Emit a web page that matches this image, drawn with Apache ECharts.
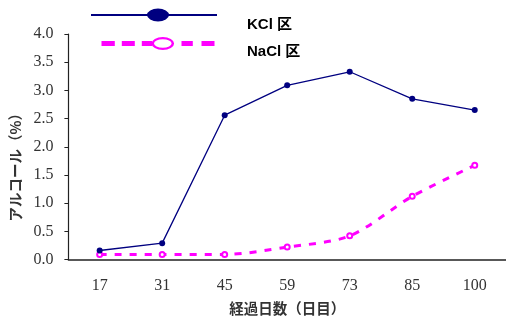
<!DOCTYPE html>
<html>
<head>
<meta charset="utf-8">
<script src="https://cdn.jsdelivr.net/npm/echarts@6/dist/echarts.min.js"></script>
<style>
  html, body { margin: 0; padding: 0; background: #fff; }
  #chart { width: 506px; height: 321px; }
</style>
</head>
<body>
<div id="chart"></div>
<script>
// Elapsed days (category axis)
const days = ['17', '31', '45', '59', '73', '85', '100'];
// Alcohol content (%) per plot
const kclValues = [0.16, 0.29, 2.56, 3.09, 3.33, 2.85, 2.65];
const naclValues = [0.09, 0.09, 0.09, 0.22, 0.42, 1.12, 1.67];
const seriesNames = ['KCl 区', 'NaCl 区'];
const yTicks = { min: 0, max: 4, step: 0.5 };

const NAVY = '#000080';
const MAGENTA = '#FF00FF';

// Legend icons: a line with a large oval marker near the top of the icon box.
// A tiny speck at the bottom of each box sets the box height so that the
// label (centred on the box) sits a little below the line.
const kclIcon = 'path://M0 5.5H126V7.5H0Z M56 6.5A11 6.5 0 1 1 78 6.5A11 6.5 0 1 1 56 6.5Z ' +
  'M0 31.99H0.01V32H0Z';
const naclIcon = 'path://M0 4H13.3V9H0Z M20.3 4H33.3V9H20.3Z M40.3 4H50.5V9H40.3Z ' +
  'M50 6.5A11.3 6.5 0 1 1 72.6 6.5A11.3 6.5 0 1 1 50 6.5Z ' +
  'M52.5 6.5A8.8 4.2 0 1 0 70.1 6.5A8.8 4.2 0 1 0 52.5 6.5Z ' +
  'M80 4H91.3V9H80Z M100 4H113V9H100Z M0 28.99H0.01V29H0Z';

const chart = echarts.init(document.getElementById('chart'), null, { renderer: 'canvas' });

const legendText = {
  fontFamily: "'Liberation Sans', 'Noto Sans CJK JP', sans-serif",
  fontWeight: 'bold',
  fontSize: 15,
  color: '#000'
};

const serifLabel = {
  fontFamily: "'Liberation Serif', 'DejaVu Serif', serif",
  fontSize: 16,
  color: '#333'
};

const axisNameStyle = {
  fontFamily: "'Noto Sans CJK JP', sans-serif",
  fontSize: 14.5,
  fontWeight: 'bold',
  color: '#333'
};

chart.setOption({
  animation: false,
  backgroundColor: '#fff',
  grid: { left: 66, top: 34, width: 441, height: 227, containLabel: false },
  legend: [
    {
      data: [{ name: seriesNames[0], icon: kclIcon }],
      left: 91, top: 8.5, padding: 0,
      itemWidth: 126, itemHeight: 32,
      itemStyle: { color: NAVY, borderWidth: 0 },
      textStyle: Object.assign({ padding: [0, 0, 0, 25] }, legendText),
      selectedMode: false
    },
    {
      data: [{ name: seriesNames[1], icon: naclIcon }],
      left: 101.5, top: 37, padding: 0,
      itemWidth: 113, itemHeight: 29.5,
      itemStyle: { color: MAGENTA, borderWidth: 0 },
      textStyle: Object.assign({ padding: [0, 0, 0, 27.5] }, legendText),
      selectedMode: false
    }
  ],
  xAxis: {
    type: 'category',
    data: days,
    boundaryGap: true,
    name: '経過日数（日目）',
    nameLocation: 'middle',
    nameGap: 42,
    nameTextStyle: axisNameStyle,
    axisLine: { lineStyle: { color: '#222', width: 1.5 } },
    axisTick: { inside: true, length: 4, alignWithLabel: false, lineStyle: { color: '#222' } },
    axisLabel: Object.assign({ margin: 18 }, serifLabel),
    splitLine: { show: false }
  },
  yAxis: {
    type: 'value',
    min: yTicks.min,
    max: yTicks.max,
    interval: yTicks.step,
    name: 'アルコール（%）',
    nameLocation: 'middle',
    nameGap: 42,
    nameRotate: 90,
    nameTextStyle: Object.assign({ padding: [0, 34, 0, 0] }, axisNameStyle),
    axisLine: { show: true, lineStyle: { color: '#222', width: 1.2 } },
    axisTick: { show: true, inside: false, length: 4, lineStyle: { color: '#222' } },
    axisLabel: Object.assign({ margin: 15, formatter: v => v.toFixed(1) }, serifLabel),
    splitLine: { show: false }
  },
  series: [
    {
      name: seriesNames[0],
      type: 'line',
      data: kclValues,
      symbol: 'circle',
      symbolSize: 6,
      itemStyle: { color: NAVY },
      lineStyle: { color: NAVY, width: 1.3 },
      z: 3
    },
    {
      name: seriesNames[1],
      type: 'line',
      data: naclValues,
      smooth: 0.3,
      symbol: 'emptyCircle',
      symbolSize: 5,
      itemStyle: { color: MAGENTA, borderColor: MAGENTA, borderWidth: 1.5 },
      lineStyle: { color: MAGENTA, width: 3, type: [7, 8] },
      z: 2
    }
  ]
});
</script>
</body>
</html>
